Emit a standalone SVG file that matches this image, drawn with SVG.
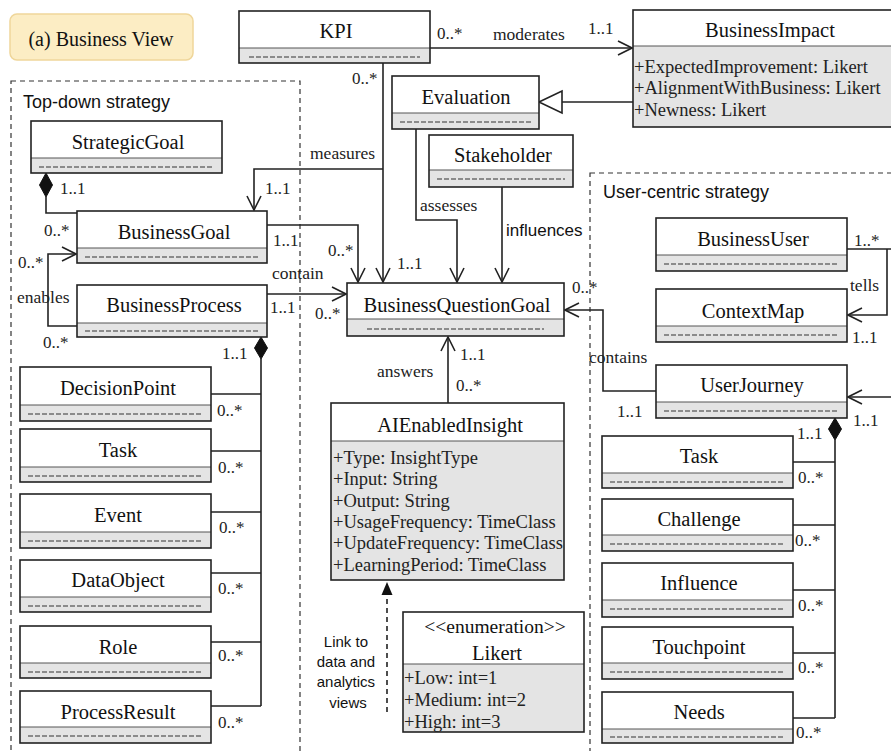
<svg xmlns="http://www.w3.org/2000/svg" width="891" height="751" viewBox="0 0 891 751">
  <defs>
    <style>
      .white { fill: #ffffff; }
      .band { fill: #e4e4e4; }
      .frame { fill: none; stroke: #222; stroke-width: 1.6; }
      .sep { stroke: #555; stroke-width: 1; }
      .hy { stroke: #333; stroke-width: 1; stroke-dasharray: 5 2; }
      .name { font-family: "Liberation Serif", "Times New Roman", serif; font-size: 20.5px; fill: #111; text-anchor: middle; }
      .attr { font-family: "Liberation Serif", "Times New Roman", serif; font-size: 18.5px; fill: #222; }
      .lbl { font-family: "Liberation Serif", "Times New Roman", serif; font-size: 17.5px; fill: #222; }
      .mult { font-family: "Liberation Serif", "Times New Roman", serif; font-size: 17px; fill: #222; }
      .sans { font-family: "Liberation Sans", Arial, sans-serif; fill: #111; }
      .conn { fill: none; stroke: #222; stroke-width: 1.6; }
      .arr { fill: none; stroke: #222; stroke-width: 1.6; marker-end: url(#open); }
      .group { fill: none; stroke: #333; stroke-width: 1.2; stroke-dasharray: 5 4; }
      .comp { fill: #111; stroke: #111; stroke-width: 1; }
    </style>
    <marker id="open" viewBox="0 0 16 16" refX="15" refY="8" markerWidth="16" markerHeight="16" markerUnits="userSpaceOnUse" orient="auto">
      <path d="M1,1 L15,8 L1,15" fill="none" stroke="#222" stroke-width="1.6"/>
    </marker>
  </defs>

  <!-- view caption -->
  <g id="caption">
    <rect x="10" y="14" width="183" height="46" rx="7" fill="#fcedc4" stroke="#efd69a" stroke-width="1.5"/>
    <text x="101" y="46" class="name" style="font-size:20px">(a) Business View</text>
  </g>

  <!-- strategy containers -->
  <g id="top-down-strategy">
    <rect x="11" y="81" width="289" height="680" class="group"/>
    <text x="23" y="108" class="sans" font-size="18">Top-down strategy</text>
  </g>
  <g id="user-centric-strategy">
    <rect x="590" y="173" width="320" height="600" class="group"/>
    <text x="603" y="198" class="sans" font-size="18">User-centric strategy</text>
  </g>

  <!-- connectors -->
  <g id="connectors">
    <!-- KPI moderates BusinessImpact -->
    <path d="M430,48 H632" class="arr"/>
    <!-- BusinessImpact generalizes Evaluation -->
    <path d="M633,102 H562" class="conn"/>
    <polygon points="539,102 562,91 562,113" fill="#fff" stroke="#222" stroke-width="1.6"/>
    <!-- KPI measures -->
    <path d="M383,63 V282" class="arr"/>
    <path d="M383,169 H254 V210" class="arr"/>
    <!-- StrategicGoal composition -->
    <polygon points="46,173 52.5,185 46,197 39.5,185" class="comp"/>
    <path d="M46,197 V213 H77" class="conn"/>
    <!-- enables -->
    <path d="M77,326 H48 V254 H76" class="arr"/>
    <!-- BusinessGoal to BusinessQuestionGoal -->
    <path d="M267,225 H358 V282" class="arr"/>
    <!-- contain -->
    <path d="M267,294 H346" class="arr"/>
    <!-- assesses -->
    <path d="M416,129 V220 H457 V282" class="arr"/>
    <!-- influences -->
    <path d="M502,187 V282" class="arr"/>
    <!-- answers -->
    <path d="M448,403 V337" class="arr"/>
    <!-- contains -->
    <path d="M656,391 H603 V310 H565" class="arr"/>
    <!-- tells -->
    <path d="M847,249 H891" class="conn"/>
    <path d="M887,249 V315 H848" class="arr"/>
    <!-- incoming to UserJourney -->
    <path d="M891,397 H848" class="arr"/>
    <!-- UserJourney composition -->
    <polygon points="835,418 841.5,429 835,440 828.5,429" class="comp"/>
    <path d="M835,440 V718 M793,462 H835 M793,525 H835 M793,590 H835 M793,653 H835 M793,718 H835" class="conn"/>
    <!-- BusinessProcess composition -->
    <polygon points="261,337 267.5,348 261,359 254.5,348" class="comp"/>
    <path d="M261,359 V706 M211,394 H261 M211,451 H261 M211,512 H261 M211,573 H261 M211,642 H261 M211,706 H261" class="conn"/>
    <!-- link to data and analytics views -->
    <path d="M387,712 V594" class="conn" stroke-dasharray="5 4"/>
    <polygon points="387,582 381.5,595 392.5,595" fill="#111"/>

    <!-- connector labels -->
    <text x="437" y="39" class="mult">0..*</text>
    <text x="493" y="40" class="lbl">moderates</text>
    <text x="588" y="34" class="mult">1..1</text>
    <text x="352" y="84" class="mult">0..*</text>
    <text x="310" y="159" class="lbl">measures</text>
    <text x="265" y="194" class="mult">1..1</text>
    <text x="60" y="194" class="mult">1..1</text>
    <text x="44" y="236" class="mult">0..*</text>
    <text x="18" y="268" class="mult">0..*</text>
    <text x="17" y="303" class="lbl">enables</text>
    <text x="43" y="348" class="mult">0..*</text>
    <text x="273" y="246" class="mult">1..1</text>
    <text x="328" y="256" class="mult">0..*</text>
    <text x="397" y="269" class="mult">1..1</text>
    <text x="272" y="279" class="lbl">contain</text>
    <text x="270" y="313" class="mult">1..1</text>
    <text x="315" y="319" class="mult">0..*</text>
    <text x="222" y="359" class="mult">1..1</text>
    <text x="420" y="211" class="lbl">assesses</text>
    <text x="506" y="236" class="sans" font-size="17">influences</text>
    <text x="572" y="293" class="mult">0..*</text>
    <text x="589" y="363" class="lbl">contains</text>
    <text x="617" y="417" class="mult">1..1</text>
    <text x="853" y="426" class="mult">1..1</text>
    <text x="797" y="439" class="mult">1..1</text>
    <text x="854" y="246" class="mult">1..*</text>
    <text x="850" y="291" class="lbl">tells</text>
    <text x="852" y="343" class="mult">1..1</text>
    <text x="377" y="377" class="lbl">answers</text>
    <text x="460" y="360" class="mult">1..1</text>
    <text x="456" y="391" class="mult">0..*</text>
    <text x="798" y="483" class="mult">0..*</text>
    <text x="795" y="546" class="mult">0..*</text>
    <text x="798" y="611" class="mult">0..*</text>
    <text x="798" y="673" class="mult">0..*</text>
    <text x="796" y="738" class="mult">0..*</text>
    <text x="217" y="416" class="mult">0..*</text>
    <text x="218" y="473" class="mult">0..*</text>
    <text x="219" y="533" class="mult">0..*</text>
    <text x="218" y="594" class="mult">0..*</text>
    <text x="218" y="661" class="mult">0..*</text>
    <text x="218" y="728" class="mult">0..*</text>
    <text class="sans" font-size="15" text-anchor="middle">
      <tspan x="348" y="647">Link to</tspan>
      <tspan x="348" y="667">data and</tspan>
      <tspan x="348" y="687">analytics</tspan>
      <tspan x="348" y="708">views</tspan>
    </text>
  </g>

  <!-- classes -->
  <g id="kpi">
    <rect x="239" y="11" width="191" height="37" class="white"/>
    <rect x="239" y="48" width="191" height="15" class="band"/>
    <line x1="249" y1="57" x2="420" y2="57" class="hy"/>
    <line x1="239" y1="48" x2="430" y2="48" class="sep"/>
    <rect x="239" y="11" width="191" height="52" class="frame"/>
    <text x="336" y="38" class="name">KPI</text>
  </g>

  <g id="business-impact">
    <rect x="633" y="10" width="270" height="36" class="white"/>
    <rect x="633" y="46" width="270" height="81" class="band"/>
    <line x1="633" y1="46" x2="903" y2="46" class="sep"/>
    <rect x="633" y="10" width="270" height="117" class="frame"/>
    <text x="770" y="37" class="name">BusinessImpact</text>
    <text x="634" y="73" class="attr">+ExpectedImprovement: Likert</text>
    <text x="634" y="94" class="attr">+AlignmentWithBusiness: Likert</text>
    <text x="634" y="116" class="attr">+Newness: Likert</text>
  </g>

  <g id="evaluation">
    <rect x="392" y="76" width="147" height="37" class="white"/>
    <rect x="392" y="113" width="147" height="16" class="band"/>
    <line x1="400" y1="122" x2="531" y2="122" class="hy"/>
    <line x1="392" y1="113" x2="539" y2="113" class="sep"/>
    <rect x="392" y="76" width="147" height="53" class="frame"/>
    <text x="466" y="104" class="name">Evaluation</text>
  </g>

  <g id="stakeholder">
    <rect x="429" y="135" width="144" height="35" class="white"/>
    <rect x="429" y="170" width="144" height="17" class="band"/>
    <line x1="437" y1="179" x2="565" y2="179" class="hy"/>
    <line x1="429" y1="170" x2="573" y2="170" class="sep"/>
    <rect x="429" y="135" width="144" height="52" class="frame"/>
    <text x="503" y="162" class="name">Stakeholder</text>
  </g>

  <g id="strategic-goal">
    <rect x="31" y="121" width="191" height="37" class="white"/>
    <rect x="31" y="158" width="191" height="15" class="band"/>
    <line x1="39" y1="167" x2="214" y2="167" class="hy"/>
    <line x1="31" y1="158" x2="222" y2="158" class="sep"/>
    <rect x="31" y="121" width="191" height="52" class="frame"/>
    <text x="128" y="149" class="name">StrategicGoal</text>
  </g>

  <g id="business-goal">
    <rect x="77" y="211" width="190" height="37" class="white"/>
    <rect x="77" y="248" width="190" height="15" class="band"/>
    <line x1="85" y1="257" x2="259" y2="257" class="hy"/>
    <line x1="77" y1="248" x2="267" y2="248" class="sep"/>
    <rect x="77" y="211" width="190" height="52" class="frame"/>
    <text x="174" y="239" class="name">BusinessGoal</text>
  </g>

  <g id="business-process">
    <rect x="77" y="285" width="190" height="38" class="white"/>
    <rect x="77" y="323" width="190" height="14" class="band"/>
    <line x1="85" y1="331" x2="259" y2="331" class="hy"/>
    <line x1="77" y1="323" x2="267" y2="323" class="sep"/>
    <rect x="77" y="285" width="190" height="52" class="frame"/>
    <text x="174" y="312" class="name">BusinessProcess</text>
  </g>

  <g id="business-question-goal">
    <rect x="347" y="283" width="217" height="36" class="white"/>
    <rect x="347" y="319" width="217" height="17" class="band"/>
    <line x1="367" y1="329" x2="544" y2="329" class="hy"/>
    <line x1="347" y1="319" x2="564" y2="319" class="sep"/>
    <rect x="347" y="283" width="217" height="53" class="frame"/>
    <text x="457" y="312" class="name">BusinessQuestionGoal</text>
  </g>

  <g id="ai-enabled-insight">
    <rect x="331" y="403" width="233" height="38" class="white"/>
    <rect x="331" y="441" width="233" height="139" class="band"/>
    <line x1="331" y1="441" x2="564" y2="441" class="sep"/>
    <rect x="331" y="403" width="233" height="177" class="frame"/>
    <text x="450" y="432" class="name">AIEnabledInsight</text>
    <text x="333" y="464" class="attr">+Type: InsightType</text>
    <text x="333" y="485" class="attr">+Input: String</text>
    <text x="333" y="507" class="attr">+Output: String</text>
    <text x="333" y="528" class="attr">+UsageFrequency: TimeClass</text>
    <text x="333" y="549" class="attr">+UpdateFrequency: TimeClass</text>
    <text x="333" y="571" class="attr">+LearningPeriod: TimeClass</text>
  </g>

  <g id="likert">
    <rect x="403" y="612" width="181" height="52" class="white"/>
    <rect x="403" y="664" width="181" height="68" class="band"/>
    <line x1="403" y1="664" x2="584" y2="664" class="sep"/>
    <rect x="403" y="612" width="181" height="120" class="frame"/>
    <text x="495" y="633" class="name" style="font-size:19.5px">&lt;&lt;enumeration&gt;&gt;</text>
    <text x="497" y="660" class="name">Likert</text>
    <text x="404" y="684" class="attr">+Low: int=1</text>
    <text x="404" y="706" class="attr">+Medium: int=2</text>
    <text x="404" y="728" class="attr">+High: int=3</text>
  </g>

  <g id="business-user">
    <rect x="656" y="218" width="191" height="37" class="white"/>
    <rect x="656" y="255" width="191" height="16" class="band"/>
    <line x1="664" y1="264" x2="839" y2="264" class="hy"/>
    <line x1="656" y1="255" x2="847" y2="255" class="sep"/>
    <rect x="656" y="218" width="191" height="53" class="frame"/>
    <text x="753" y="246" class="name">BusinessUser</text>
  </g>

  <g id="context-map">
    <rect x="656" y="289" width="191" height="37" class="white"/>
    <rect x="656" y="326" width="191" height="16" class="band"/>
    <line x1="664" y1="335" x2="839" y2="335" class="hy"/>
    <line x1="656" y1="326" x2="847" y2="326" class="sep"/>
    <rect x="656" y="289" width="191" height="53" class="frame"/>
    <text x="753" y="318" class="name">ContextMap</text>
  </g>

  <g id="user-journey">
    <rect x="656" y="365" width="191" height="37" class="white"/>
    <rect x="656" y="402" width="191" height="16" class="band"/>
    <line x1="664" y1="411" x2="839" y2="411" class="hy"/>
    <line x1="656" y1="402" x2="847" y2="402" class="sep"/>
    <rect x="656" y="365" width="191" height="53" class="frame"/>
    <text x="752" y="392" class="name">UserJourney</text>
  </g>

  <!-- business process parts -->
  <g id="decision-point">
    <rect x="20" y="367" width="191" height="38" class="white"/>
    <rect x="20" y="405" width="191" height="16" class="band"/>
    <line x1="28" y1="414" x2="203" y2="414" class="hy"/>
    <line x1="20" y1="405" x2="211" y2="405" class="sep"/>
    <rect x="20" y="367" width="191" height="54" class="frame"/>
    <text x="118" y="395" class="name">DecisionPoint</text>
  </g>
  <g id="process-task">
    <rect x="20" y="429" width="191" height="38" class="white"/>
    <rect x="20" y="467" width="191" height="15" class="band"/>
    <line x1="28" y1="476" x2="203" y2="476" class="hy"/>
    <line x1="20" y1="467" x2="211" y2="467" class="sep"/>
    <rect x="20" y="429" width="191" height="53" class="frame"/>
    <text x="118" y="457" class="name">Task</text>
  </g>
  <g id="event">
    <rect x="20" y="494" width="191" height="38" class="white"/>
    <rect x="20" y="532" width="191" height="16" class="band"/>
    <line x1="28" y1="541" x2="203" y2="541" class="hy"/>
    <line x1="20" y1="532" x2="211" y2="532" class="sep"/>
    <rect x="20" y="494" width="191" height="54" class="frame"/>
    <text x="118" y="522" class="name">Event</text>
  </g>
  <g id="data-object">
    <rect x="20" y="560" width="191" height="37" class="white"/>
    <rect x="20" y="597" width="191" height="15" class="band"/>
    <line x1="28" y1="606" x2="203" y2="606" class="hy"/>
    <line x1="20" y1="597" x2="211" y2="597" class="sep"/>
    <rect x="20" y="560" width="191" height="52" class="frame"/>
    <text x="118" y="587" class="name">DataObject</text>
  </g>
  <g id="role">
    <rect x="20" y="626" width="191" height="37" class="white"/>
    <rect x="20" y="663" width="191" height="15" class="band"/>
    <line x1="28" y1="672" x2="203" y2="672" class="hy"/>
    <line x1="20" y1="663" x2="211" y2="663" class="sep"/>
    <rect x="20" y="626" width="191" height="52" class="frame"/>
    <text x="118" y="654" class="name">Role</text>
  </g>
  <g id="process-result">
    <rect x="20" y="691" width="191" height="36" class="white"/>
    <rect x="20" y="727" width="191" height="16" class="band"/>
    <line x1="28" y1="736" x2="203" y2="736" class="hy"/>
    <line x1="20" y1="727" x2="211" y2="727" class="sep"/>
    <rect x="20" y="691" width="191" height="52" class="frame"/>
    <text x="118" y="719" class="name">ProcessResult</text>
  </g>

  <!-- user journey parts -->
  <g id="journey-task">
    <rect x="602" y="436" width="191" height="37" class="white"/>
    <rect x="602" y="473" width="191" height="15" class="band"/>
    <line x1="610" y1="482" x2="785" y2="482" class="hy"/>
    <line x1="602" y1="473" x2="793" y2="473" class="sep"/>
    <rect x="602" y="436" width="191" height="52" class="frame"/>
    <text x="699" y="463" class="name">Task</text>
  </g>
  <g id="challenge">
    <rect x="602" y="499" width="191" height="36" class="white"/>
    <rect x="602" y="535" width="191" height="16" class="band"/>
    <line x1="610" y1="544" x2="785" y2="544" class="hy"/>
    <line x1="602" y1="535" x2="793" y2="535" class="sep"/>
    <rect x="602" y="499" width="191" height="52" class="frame"/>
    <text x="699" y="526" class="name">Challenge</text>
  </g>
  <g id="influence">
    <rect x="602" y="563" width="191" height="37" class="white"/>
    <rect x="602" y="600" width="191" height="17" class="band"/>
    <line x1="610" y1="609" x2="785" y2="609" class="hy"/>
    <line x1="602" y1="600" x2="793" y2="600" class="sep"/>
    <rect x="602" y="563" width="191" height="54" class="frame"/>
    <text x="699" y="590" class="name">Influence</text>
  </g>
  <g id="touchpoint">
    <rect x="602" y="627" width="191" height="36" class="white"/>
    <rect x="602" y="663" width="191" height="16" class="band"/>
    <line x1="610" y1="672" x2="785" y2="672" class="hy"/>
    <line x1="602" y1="663" x2="793" y2="663" class="sep"/>
    <rect x="602" y="627" width="191" height="52" class="frame"/>
    <text x="699" y="654" class="name">Touchpoint</text>
  </g>
  <g id="needs">
    <rect x="602" y="692" width="191" height="37" class="white"/>
    <rect x="602" y="729" width="191" height="14" class="band"/>
    <line x1="610" y1="737" x2="785" y2="737" class="hy"/>
    <line x1="602" y1="729" x2="793" y2="729" class="sep"/>
    <rect x="602" y="692" width="191" height="51" class="frame"/>
    <text x="699" y="719" class="name">Needs</text>
  </g>
</svg>
